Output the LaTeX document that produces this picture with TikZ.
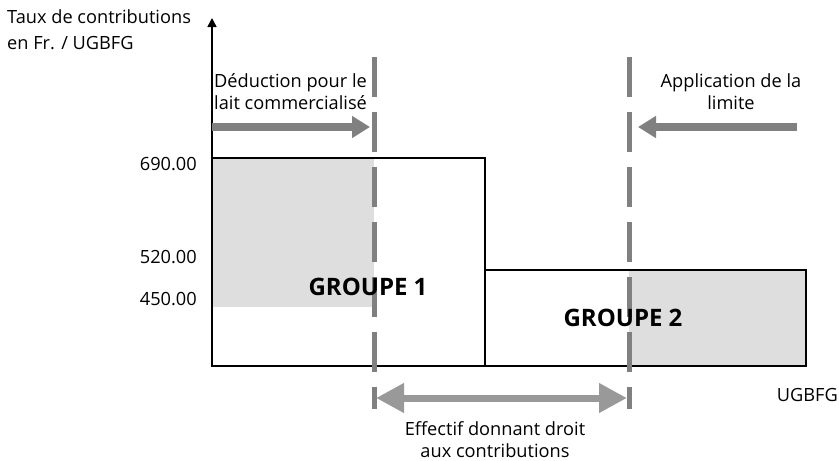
\documentclass[tikz,border=0pt]{standalone}
\usepackage{fontspec}
\setmainfont{Open Sans}
\usetikzlibrary{calc,arrows.meta}

\tikzset{
  lbl/.style = {font=\fontsize{18.2}{22}\selectfont, inner sep=0pt},
  grp/.style = {font=\fontsize{24}{26}\selectfont\bfseries, inner sep=0pt},
  limline/.style = {draw=black!50, line width=5pt, dash pattern=on 40pt off 15pt},
  bigarrow/.style = {draw=black!50, line width=8pt, -{Triangle[length=18pt,width=21pt]}},
}

\begin{document}
\begin{tikzpicture}[x=1pt, y=-1pt]
\useasboundingbox (0,0) rectangle (839,461);
\fill[black!13] (213,159) rectangle (374,307);
\fill[black!13] (629,271) rectangle (806,366);
\draw[line width=1.8pt] (212,158) rectangle (485,366);
\draw[line width=1.8pt] (485,270) rectangle (806,366);
\coordinate (o) at (212,366);
\coordinate (ytop) at (212,18);
\draw[line width=1.5pt, -{Triangle[length=9pt,width=9pt]}] (o) -- (ytop);
\coordinate (dLtop) at (374,57);
\coordinate (dLbot) at (374,409);
\coordinate (dRtop) at (629,57);
\coordinate (dRbot) at (629,409);
\draw[limline] (dLtop) -- (dLbot);
\draw[limline] (dRtop) -- (dRbot);
\coordinate (dedstart) at (212,127);
\coordinate (dedend) at (370,127);
\coordinate (limstart) at (797,127);
\coordinate (limend) at (638,127);
\draw[bigarrow] (dedstart) -- (dedend);
\draw[bigarrow] (limstart) -- (limend);
\coordinate (effL) at (376,398);
\coordinate (effR) at (627,398);
\draw[draw=black!40, line width=7pt, {Triangle[length=28pt,width=28pt]}-{Triangle[length=28pt,width=28pt]}] (effL) -- (effR);
\node[lbl, anchor=west, align=left] (yaxis) at (7,30) {Taux de contributions\\[4pt]en Fr. / UGBFG};
\node[lbl, anchor=west, align=left] (ded) at (214,92) {Déduction pour le\\lait commercialisé};
\node[lbl, align=center] (lim) at (731,92) {Application de la\\limite};
\node[lbl, anchor=east] (v690) at (197,164) {690.00};
\node[lbl, anchor=east] (v520) at (197,257) {520.00};
\node[lbl, anchor=east] (v450) at (197,299) {450.00};
\node[grp] (g1) at (368,287) {GROUPE 1};
\node[grp] (g2) at (623,318) {GROUPE 2};
\node[lbl, anchor=east] (ugbfg) at (838,395) {UGBFG};
\node[lbl, align=center] (eff) at (495,440) {Effectif donnant droit\\aux contributions};
\end{tikzpicture}
\end{document}
